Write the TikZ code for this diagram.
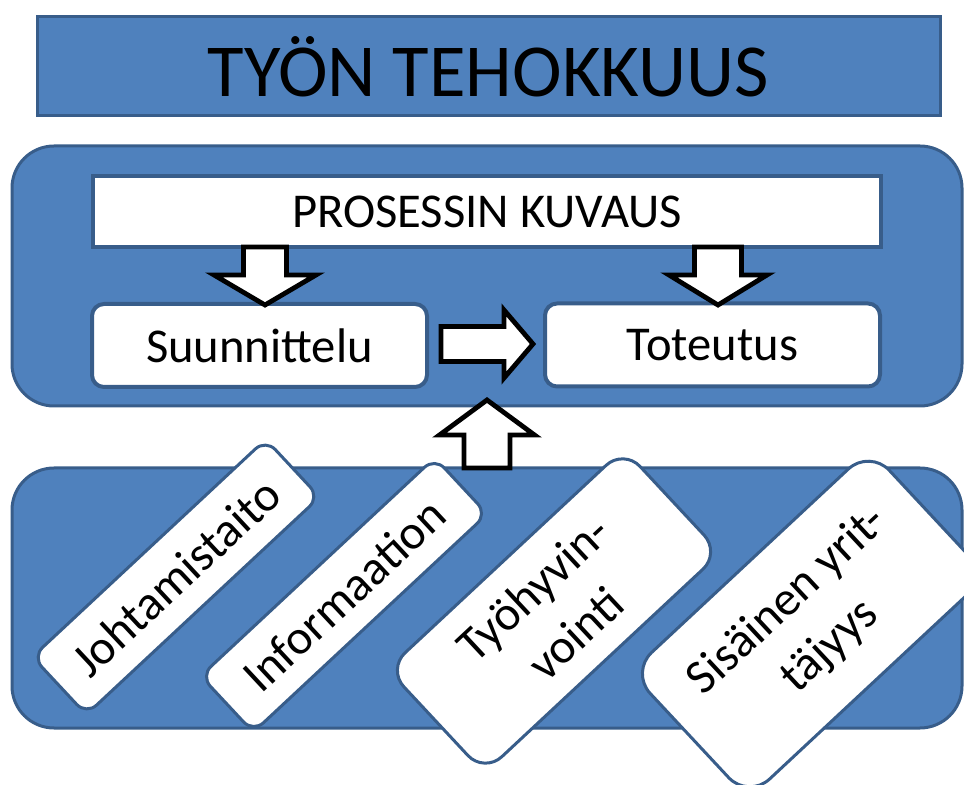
\documentclass[tikz,border=0pt]{standalone}
\usepackage{fontspec}
\setmainfont{Carlito}

\definecolor{panelblue}{HTML}{4F81BD}
\definecolor{paneledge}{HTML}{385D8A}

\begin{document}
\begin{tikzpicture}[x=0.5pt, y=-0.5pt,
                    every node/.style={font=\fontsize{24.3}{31}\selectfont, inner sep=0pt},
                    panel/.style={draw=paneledge, fill=panelblue, line width=1.5pt,
                                  rounded corners=21pt, minimum width=475pt, minimum height=130pt},
                    white box/.style={draw=paneledge, fill=white, line width=2pt},
                    factor box/.style={white box, line width=1.5pt, rotate=43, align=center},
                    arrow outline/.style={draw=black, fill=white, line width=2.4pt, line join=miter},
                    pics/block arrow/.style n args={4}{code={
                      \draw[arrow outline] (0,#3) -- ({#1-#2},#3) -- ({#1-#2},#4) -- (#1,0)
                            -- ({#1-#2},-#4) -- ({#1-#2},-#3) -- (0,-#3) -- cycle;}}]

  \useasboundingbox (0,0) rectangle (964,785);

  % Title banner
  \node [draw=paneledge, fill=panelblue, line width=1.5pt,
         minimum width=451.5pt, minimum height=49.5pt,
         font=\fontsize{37.4}{42}\selectfont] (title box) at (488.5,66.5) {TYÖN TEHOKKUUS};

  % Upper panel with the process boxes
  \node [panel] (process panel) at (487,276) {};
  \node [white box, minimum width=394pt, minimum height=35.5pt] (process box)
        at (487,211.5) {PROSESSIN KUVAUS};
  \node [white box, rounded corners=6pt, minimum width=167.5pt, minimum height=41.5pt]
        (planning box) at (259.5,345.5) {Suunnittelu};
  \node [white box, rounded corners=6pt, minimum width=167.5pt, minimum height=41.5pt]
        (doing box) at (712.5,345) {Toteutus};

  % Block arrows inside the upper panel
  \pic [rotate=-90] at (265,247) {block arrow={58}{30}{21.5}{51}};
  \pic [rotate=-90] at (718,247) {block arrow={58}{30}{23.5}{49}};
  \pic at (441,344) {block arrow={92}{29}{17.5}{34}};

  % Lower panel with the tilted factor boxes
  \node [panel] (factor panel) at (487,598) {};
  \foreach \factor/\x/\y/\w/\h/\r/\name in {1/176/577/159.5/39.5/7/Johtamistaito,
                                            2/344/595/160/38.5/7/Informaation,
                                            3/554/611/161.5/71/12/{Työhyvin-\\vointi},
                                            4/809/624/163.5/86.5/14.5/{Sisäinen yrit-\\täjyys}} {
    \node [factor box, minimum width=\w pt, minimum height=\h pt, rounded corners=\r pt]
          (factor \factor) at (\x,\y) {\name};
  }

  % Arrow from the factors up to the process
  \pic [rotate=90] at (487,468) {block arrow={68}{35}{23}{47.5}};

\end{tikzpicture}
\end{document}
